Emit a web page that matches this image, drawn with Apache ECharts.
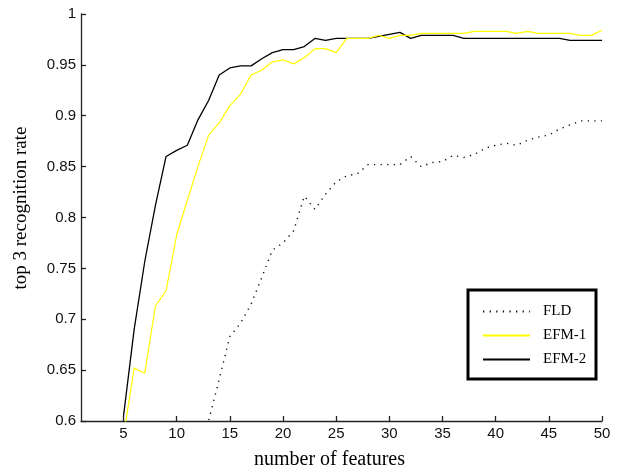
<!DOCTYPE html>
<html>
<head>
<meta charset="utf-8">
<script src="https://cdn.jsdelivr.net/npm/echarts@6/dist/echarts.min.js"></script>
<style>
html,body{margin:0;padding:0;background:#fff;}
#chart{width:618px;height:475px;}
</style>
</head>
<body>
<div id="chart"></div>
<script>
// number of features (x values)
const features = [1,2,3,4,5,6,7,8,9,10,11,12,13,14,15,16,17,18,19,20,21,22,23,24,25,26,27,28,29,30,31,32,33,34,35,36,37,38,39,40,41,42,43,44,45,46,47,48,49,50];

// top 3 recognition rate, FLD (dotted)
const fld = [null,null,null,null,null,null,null,null,null,null,null,0.55,
  0.600,0.641,0.683,0.696,0.715,0.741,0.768,0.775,0.787,0.821,
  0.808,0.823,0.835,0.841,0.843,0.852,0.852,0.852,0.852,0.860,
  0.850,0.854,0.855,0.861,0.859,0.862,0.868,0.871,0.873,0.871,
  0.876,0.879,0.881,0.887,0.891,0.895,0.895,0.895];

// EFM-1 (yellow)
const efm1 = [null,null,null,null,0.585,0.652,0.647,0.713,0.728,0.783,
  0.817,0.850,0.881,0.893,0.910,0.921,0.940,0.945,0.953,0.955,
  0.951,0.957,0.966,0.966,0.962,0.976,0.976,0.976,0.979,0.976,
  0.979,0.979,0.981,0.981,0.981,0.981,0.981,0.983,0.983,0.983,
  0.983,0.981,0.983,0.981,0.981,0.981,0.981,0.979,0.979,0.984];

// EFM-2 (black)
const efm2 = [null,null,null,null,0.605,0.690,0.757,0.812,0.860,0.866,
  0.871,0.896,0.915,0.940,0.947,0.949,0.949,0.956,0.962,0.965,
  0.965,0.968,0.976,0.974,0.976,0.976,0.976,0.976,0.978,0.980,
  0.982,0.976,0.979,0.979,0.979,0.979,0.976,0.976,0.976,0.976,
  0.976,0.976,0.976,0.976,0.976,0.976,0.974,0.974,0.974,0.974];

const xTicks = [5,10,15,20,25,30,35,40,45,50];
const legendNames = ['FLD','EFM-1','EFM-2'];

function pairs(ys){ return features.map((x,i)=>[x, ys[i]]); }

const chart = echarts.init(document.getElementById('chart'), null, {renderer:'canvas'});
const axisColor = '#222';
chart.setOption({
  backgroundColor:'#fff',
  animation:false,
  grid:{left:81, right:16, top:14, bottom:52, containLabel:false},
  xAxis:{
    type:'value', min:1, max:50,
    name:'number of features', nameLocation:'middle', nameGap:29,
    nameTextStyle:{fontFamily:'Liberation Serif', fontSize:20, color:'#000', padding:[0,24,0,0]},
    axisLine:{show:true, lineStyle:{color:axisColor, width:1.3}},
    axisTick:{show:true, inside:true, length:5, customValues:xTicks, lineStyle:{color:axisColor, width:1.3}},
    axisLabel:{customValues:xTicks, fontFamily:'Liberation Sans', fontSize:15, color:'#111', margin:5},
    splitLine:{show:false}
  },
  yAxis:{
    type:'value', min:0.6, max:1, interval:0.05,
    name:'top 3 recognition rate', nameLocation:'middle', nameGap:50, nameRotate:90,
    nameTextStyle:{fontFamily:'Liberation Serif', fontSize:19, color:'#000', padding:[0,0,0,19]},
    axisLine:{show:true, lineStyle:{color:axisColor, width:1.3}},
    axisTick:{show:true, inside:true, length:5, lineStyle:{color:axisColor, width:1.3}},
    axisLabel:{fontFamily:'Liberation Sans', fontSize:15, color:'#111', margin:5},
    splitLine:{show:false}
  },
  legend:{
    orient:'vertical', left:482, top:304, padding:0,
    itemWidth:47, itemHeight:14, itemGap:9,
    selectedMode:false,
    itemStyle:{opacity:0},
    data:legendNames,
    textStyle:{fontFamily:'Liberation Serif', fontSize:15, color:'#000', padding:[0,0,0,8]}
  },
  graphic:[{
    type:'rect', z:100,
    shape:{x:468, y:290, width:128, height:89},
    style:{fill:null, stroke:'#000', lineWidth:3}
  }],
  series:[
    {name:'FLD', type:'line', data:pairs(fld), symbol:'none', clip:true,
     lineStyle:{color:'#111', width:1.4, type:[1.3,5.3]}, itemStyle:{color:'#000'}},
    {name:'EFM-2', type:'line', data:pairs(efm2), symbol:'none', clip:true,
     lineStyle:{color:'#000', width:1.3}, itemStyle:{color:'#000'}},
    {name:'EFM-1', type:'line', data:pairs(efm1), symbol:'none', clip:true,
     lineStyle:{color:'#ffff00', width:1.2}, itemStyle:{color:'#ffff00'}}
  ]
});
</script>
</body>
</html>
